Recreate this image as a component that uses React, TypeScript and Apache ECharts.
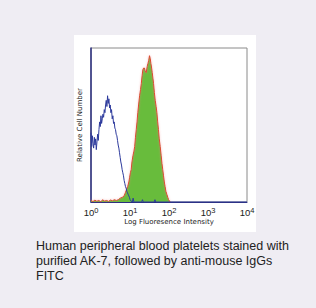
import React, { useEffect, useRef } from "react";
import * as echarts from "echarts";

// x positions are log10 of fluorescence intensity
const blueLog = [0, 0.017, 0.034, 0.051, 0.068, 0.085, 0.102, 0.119, 0.136, 0.153, 0.17, 0.187, 0.204, 0.221, 0.238, 0.255, 0.272, 0.289, 0.306, 0.323, 0.34, 0.357, 0.374, 0.391, 0.408, 0.425, 0.442, 0.459, 0.476, 0.493, 0.51, 0.527, 0.544, 0.561, 0.578, 0.595, 0.612, 0.629, 0.646, 0.663, 0.68, 0.697, 0.714, 0.731, 0.748, 0.765, 0.782, 0.799, 0.816, 0.833, 0.85, 0.867, 0.884, 0.901, 0.918, 0.935, 0.952, 0.969, 0.986, 1.003, 1.03, 1.06, 1.08, 1.1, 1.3, 1.32, 1.34, 1.62, 1.64, 1.66, 4];
const blueCount = [45, 36, 43, 38, 35, 42, 37, 41, 34, 39, 44, 40, 47, 52, 49, 56, 51, 54, 57, 55, 60, 58, 63, 66, 62, 69, 64, 67, 61, 63, 58, 60, 54, 56, 51, 52, 48, 47, 44, 43, 40, 37, 35, 32, 29, 26, 24, 21, 19, 17, 14, 12, 10, 9, 7, 6, 5, 4, 3, 1.5, 0.5, 0, 2.5, 0, 0, 1.5, 0, 0, 1.5, 0, 0];

const greenLog = [0, 0.05, 0.1, 0.15, 0.2, 0.25, 0.3, 0.35, 0.4, 0.45, 0.5, 0.55, 0.6, 0.65, 0.7, 0.75, 0.8, 0.85, 0.88, 0.91, 0.94, 0.97, 0.99, 1.01, 1.03, 1.05, 1.075, 1.1, 1.12, 1.14, 1.16, 1.18, 1.2, 1.22, 1.246, 1.27, 1.29, 1.31, 1.33, 1.35, 1.37, 1.39, 1.416, 1.44, 1.46, 1.48, 1.5, 1.52, 1.536, 1.555, 1.57, 1.59, 1.604, 1.625, 1.647, 1.67, 1.69, 1.71, 1.73, 1.75, 1.775, 1.8, 1.82, 1.84, 1.86, 1.88, 1.9, 1.92, 1.945, 1.97, 1.99, 2.03];
const greenCount = [1, 0.3, 1.2, 0.5, 1, 0.2, 1.4, 0.6, 1, 0.4, 1.3, 0.8, 1.5, 1, 1.5, 2.5, 3, 4, 6, 8, 10, 13, 16, 19, 21, 26, 30, 33, 36, 42, 47, 52, 58, 63, 69, 73, 77, 82, 86, 87, 87, 85, 84, 88, 90, 92, 95, 93, 90, 87, 84, 80, 77, 71, 66, 62, 58, 52, 47, 41, 36, 30, 25, 21, 17, 13, 10, 7, 5, 3, 1.5, 0];

const xTickExponents = [0, 1, 2, 3, 4];
const xTitle = "Log Fluoresence Intensity";
const yTitle = "Relative Cell Number";
const caption = "Human peripheral blood platelets stained with\npurified AK-7, followed by anti-mouse IgGs\nFITC";

export default function App() {
  const ref = useRef<HTMLDivElement>(null);
  useEffect(() => {
    const chart = echarts.init(ref.current!, null, { renderer: "svg" });
    const toPairs = (xs: number[], ys: number[]) => xs.map((e, i) => [Math.pow(10, e), ys[i]]);
    const axisFont = "'DejaVu Sans', Verdana, sans-serif";
    const tickFont = "'Liberation Sans', Arial, sans-serif";
    chart.setOption({
      animation: false,
      backgroundColor: "#efedf3",
      grid: {
        left: 91,
        top: 48,
        width: 156,
        height: 154,
        show: true,
        borderColor: "#8a8a8a",
        borderWidth: 1,
        backgroundColor: "#ffffff",
      },
      graphic: [
        {
          type: "rect",
          z: -10,
          shape: { x: 74, y: 35, width: 182, height: 197 },
          style: { fill: "#ffffff" },
        },
        {
          type: "text",
          left: 36,
          top: 238,
          style: {
            text: caption,
            fill: "#222222",
            font: "12.5px 'Liberation Sans', Arial, sans-serif",
            lineHeight: 15,
          },
        },
      ],
      xAxis: {
        type: "log",
        logBase: 10,
        min: 1,
        max: 10000,
        name: xTitle,
        nameLocation: "middle",
        nameGap: 16,
        nameTextStyle: { fontSize: 7, color: "#222", fontFamily: axisFont },
        axisLine: { show: true, lineStyle: { color: "#2b2f80", width: 1 } },
        axisTick: { show: false },
        splitLine: { show: false },
        minorTick: { show: false },
        axisLabel: {
          margin: 4,
          color: "#222",
          fontSize: 9.5,
          fontFamily: tickFont,
          formatter: (v: number) => {
            const e = Math.round(Math.log10(v));
            return xTickExponents.includes(e) ? "10{s|" + e + "}" : "";
          },
          rich: {
            s: { fontSize: 7.5, fontFamily: tickFont, verticalAlign: "top", padding: [0, 0, 5, 0], color: "#222" },
          },
        },
      },
      yAxis: {
        type: "value",
        min: 0,
        max: 100,
        name: yTitle,
        nameLocation: "middle",
        nameGap: 8,
        nameRotate: 90,
        nameTextStyle: { fontSize: 7, color: "#222", fontFamily: axisFont },
        axisLine: { show: true, lineStyle: { color: "#2b2f80", width: 1.5 } },
        axisTick: { show: false },
        axisLabel: { show: false },
        splitLine: { show: false },
      },
      series: [
        {
          type: "line",
          data: toPairs(greenLog, greenCount),
          showSymbol: false,
          symbol: "none",
          lineStyle: { color: "#dc4a30", width: 1, shadowColor: "rgba(240,130,130,0.6)", shadowBlur: 2 },
          areaStyle: { color: "#68bc3c", opacity: 1 },
          z: 2,
        },
        {
          type: "line",
          data: toPairs(blueLog, blueCount),
          showSymbol: false,
          symbol: "none",
          lineStyle: { color: "#2d3a9c", width: 1 },
          z: 3,
        },
      ],
    });
    return () => chart.dispose();
  }, []);
  return (
    <div
      ref={ref}
      style={{ position: "fixed", left: 0, top: 0, width: 316, height: 308 }}
    />
  );
}
